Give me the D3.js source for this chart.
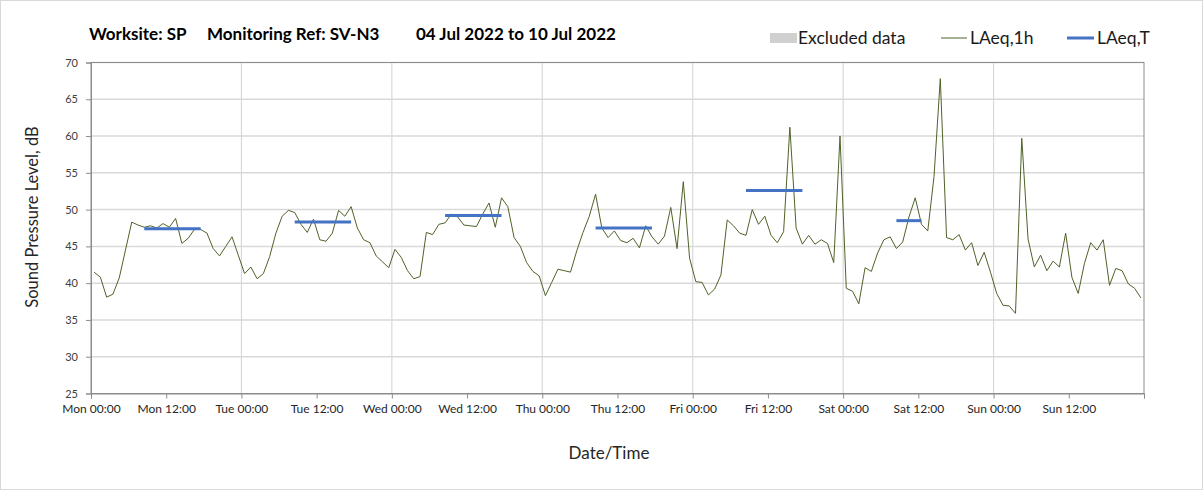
<!DOCTYPE html>
<html>
<head>
<meta charset="utf-8">
<script src="https://cdn.jsdelivr.net/npm/d3@7"></script>
<style>
  body { margin: 0; background: #fff; }
  svg { display: block; }
  text { font-family: Lato, "Open Sans", sans-serif; }
</style>
</head>
<body>
<svg id="chart" width="1203" height="490"></svg>
<script>
// Hourly LAeq,1h readings, Mon 00:00 to Sun 23:00 (one value per hour, plotted at mid-hour)
const laeq1h = [
  41.5, 40.8, 38.1, 38.5, 40.7, 44.5, 48.3, 47.9, 47.6, 47.8, 47.5, 48.1,
  47.6, 48.8, 45.4, 46.1, 47.3, 47.3, 46.8, 44.7, 43.7, 45.0, 46.3, 43.8,
  41.3, 42.2, 40.6, 41.3, 43.6, 46.8, 49.1, 49.9, 49.6, 48.0, 46.9, 48.7,
  45.9, 45.7, 46.8, 49.9, 49.1, 50.4, 47.5, 45.9, 45.5, 43.7, 42.9, 42.1,
  44.6, 43.5, 41.7, 40.6, 40.9, 46.9, 46.6, 48.0, 48.2, 49.4, 49.0, 47.9,
  47.8, 47.7, 49.4, 50.9, 47.6, 51.6, 50.4, 46.2, 45.0, 42.8, 41.6, 41.0,
  38.3, 40.1, 41.9, 41.7, 41.5, 44.4, 46.9, 49.1, 52.1, 47.5, 46.2, 47.1,
  45.8, 45.5, 46.1, 44.8, 47.8, 46.3, 45.3, 46.4, 50.3, 44.7, 53.8, 43.4,
  40.2, 40.1, 38.4, 39.2, 41.1, 48.6, 47.8, 46.8, 46.5, 50.0, 48.0, 49.1,
  46.5, 45.5, 47.0, 61.2, 47.5, 45.3, 46.5, 45.3, 45.9, 45.4, 42.8, 60.0,
  39.3, 38.9, 37.2, 42.1, 41.6, 44.1, 45.9, 46.3, 44.7, 45.6, 49.0, 51.6,
  48.0, 47.1, 54.5, 67.8, 46.2, 45.9, 46.6, 44.5, 45.5, 42.4, 44.2, 41.5,
  38.6, 37.0, 36.9, 35.9, 59.7, 46.0, 42.2, 43.8, 41.7, 43.0, 42.2, 46.8,
  40.8, 38.6, 42.7, 45.5, 44.5, 45.9, 39.7, 42.0, 41.7, 39.9, 39.3, 38.0
];

// LAeq,T over each working period (hours from Mon 00:00)
const periodStart = [8.5, 32.5, 56.5, 80.5, 104.5, 128.5];
const periodEnd   = [17.5, 41.5, 65.5, 89.5, 113.5, 132.5];
const laeqT       = [47.4, 48.3, 49.2, 47.5, 52.6, 48.5];

const xTickLabels = [
  "Mon 00:00", "Mon 12:00", "Tue 00:00", "Tue 12:00", "Wed 00:00", "Wed 12:00",
  "Thu 00:00", "Thu 12:00", "Fri 00:00", "Fri 12:00", "Sat 00:00", "Sat 12:00",
  "Sun 00:00", "Sun 12:00"
];
const yTicks = [25, 30, 35, 40, 45, 50, 55, 60, 65, 70];
const titleParts = ["Worksite: SP", "Monitoring Ref: SV-N3", "04 Jul 2022 to 10 Jul 2022"];
const legendLabels = ["Excluded data", "LAeq,1h", "LAeq,T"];

const svg = d3.select("#chart");
const W = 1203, H = 490;
const plot = { left: 91, right: 1144, top: 62.5, bottom: 393.5 };

const x = d3.scaleLinear().domain([0, 168]).range([plot.left, plot.right]);
const y = d3.scaleLinear().domain([25, 70]).range([plot.bottom, plot.top]);

const lineColor = "#4F6228";
const tColor = "#4472C4";
const gridColor = "#d9d9d9";
const axisColor = "#8c8c8c";

// outer frame
svg.append("rect")
  .attr("x", 0.5).attr("y", 0.5).attr("width", W - 1).attr("height", H - 1)
  .attr("fill", "#fff").attr("stroke", "#d9d9d9");

// horizontal gridlines
svg.append("g").selectAll("line").data(yTicks.slice(1)).join("line")
  .attr("x1", plot.left).attr("x2", plot.right)
  .attr("y1", d => y(d)).attr("y2", d => y(d))
  .attr("stroke", gridColor).attr("stroke-width", 1.5);

// vertical gridlines at each midnight
svg.append("g").selectAll("line").data(d3.range(24, 168, 24)).join("line")
  .attr("x1", d => x(d)).attr("x2", d => x(d))
  .attr("y1", plot.top).attr("y2", plot.bottom)
  .attr("stroke", gridColor).attr("stroke-width", 1.2);

// plot border
svg.append("rect")
  .attr("x", plot.left).attr("y", plot.top)
  .attr("width", plot.right - plot.left).attr("height", plot.bottom - plot.top)
  .attr("fill", "none").attr("stroke", axisColor).attr("stroke-width", 1);

// y axis
const yAxis = d3.axisLeft(y).tickValues(yTicks).tickSize(5).tickPadding(8);
const gy = svg.append("g").attr("transform", `translate(${plot.left},0)`).call(yAxis);
gy.select(".domain").attr("stroke", axisColor);
gy.selectAll(".tick line").attr("stroke", axisColor);
gy.selectAll(".tick text").attr("font-size", 11).attr("fill", "#404040")
  .style("font-family", "Lato, sans-serif");

// x axis
const xAxis = d3.axisBottom(x)
  .tickValues(d3.range(0, 169, 12))
  .tickFormat((d, i) => xTickLabels[i] || "")
  .tickSize(5).tickPadding(6);
const gx = svg.append("g").attr("transform", `translate(0,${plot.bottom})`).call(xAxis);
gx.select(".domain").attr("stroke", axisColor);
gx.selectAll(".tick line").attr("stroke", axisColor);
gx.selectAll(".tick text").attr("font-size", 12).attr("fill", "#262626")
  .style("font-family", "Lato, sans-serif");

// LAeq,1h line
const line = d3.line()
  .x((d, i) => x(i + 0.5))
  .y(d => y(d));
svg.append("path").datum(laeq1h)
  .attr("d", line)
  .attr("fill", "none").attr("stroke", lineColor).attr("stroke-width", 1)
  .attr("stroke-linejoin", "round");

// LAeq,T period bars
svg.append("g").selectAll("line").data(laeqT).join("line")
  .attr("x1", (d, i) => x(periodStart[i])).attr("x2", (d, i) => x(periodEnd[i]))
  .attr("y1", d => y(d)).attr("y2", d => y(d))
  .attr("stroke", tColor).attr("stroke-width", 3);

// title
const titleX = [89, 207, 416];
svg.append("g").selectAll("text").data(titleParts).join("text")
  .attr("x", (d, i) => titleX[i]).attr("y", 39.5)
  .attr("font-size", 17).attr("font-weight", "bold").attr("fill", "#000")
  .text(d => d);

// legend
const lg = svg.append("g");
lg.append("rect").attr("x", 770).attr("y", 33).attr("width", 27).attr("height", 10)
  .attr("fill", "#d0d0d0");
lg.append("text").attr("x", 798).attr("y", 44).attr("font-size", 17.5).attr("fill", "#1a1a1a")
  .text(legendLabels[0]);
lg.append("line").attr("x1", 941).attr("x2", 967).attr("y1", 38).attr("y2", 38)
  .attr("stroke", lineColor).attr("stroke-width", 1);
lg.append("text").attr("x", 970).attr("y", 44).attr("font-size", 17.5).attr("fill", "#1a1a1a")
  .text(legendLabels[1]);
lg.append("line").attr("x1", 1067).attr("x2", 1094).attr("y1", 38).attr("y2", 38)
  .attr("stroke", tColor).attr("stroke-width", 3);
lg.append("text").attr("x", 1097).attr("y", 44).attr("font-size", 17.5).attr("fill", "#1a1a1a")
  .text(legendLabels[2]);

// axis titles
svg.append("text")
  .attr("transform", "translate(38,217) rotate(-90)")
  .attr("text-anchor", "middle").attr("font-size", 16.5).attr("fill", "#262626")
  .text("Sound Pressure Level, dB");
svg.append("text")
  .attr("x", 609).attr("y", 459)
  .attr("text-anchor", "middle").attr("font-size", 17).attr("fill", "#262626")
  .text("Date/Time");
</script>
</body>
</html>
